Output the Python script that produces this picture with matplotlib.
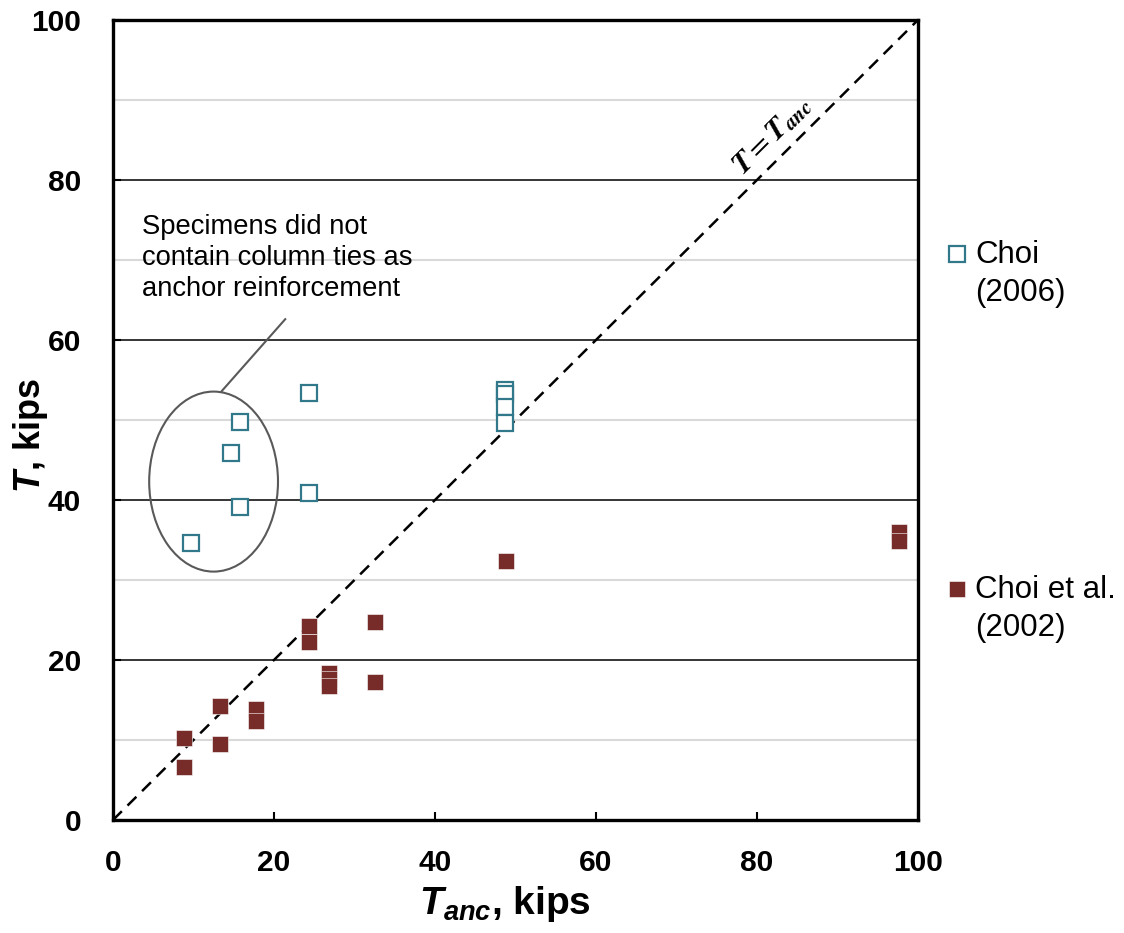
import matplotlib
matplotlib.use("Agg")
import matplotlib.pyplot as plt
from matplotlib.patches import Ellipse

# ----------------------------
# Data
# ----------------------------
choi2006_tanc = [9.7, 14.7, 15.8, 15.8, 24.3, 24.3, 48.7, 48.7, 48.7, 48.7]
choi2006_t = [34.6, 45.9, 49.8, 39.1, 53.4, 40.9, 53.7, 53.2, 51.6, 49.6]

choi2002_tanc = [8.8, 8.8, 13.3, 13.3, 17.8, 17.8, 24.3, 24.3,
                 26.8, 26.8, 26.8, 32.5, 32.5, 48.8, 97.7, 97.7]
choi2002_t = [10.2, 6.6, 14.2, 9.5, 13.9, 12.4, 24.2, 22.3,
              18.4, 17.6, 16.7, 24.8, 17.2, 32.4, 36.0, 34.9]

label_2006 = "Choi\n(2006)"
label_2002 = "Choi et al.\n(2002)"
note_text = "Specimens did not\ncontain column ties as\nanchor reinforcement"

teal = "#31788A"
maroon = "#772C2A"

plt.rcParams["font.family"] = ["Liberation Sans", "DejaVu Sans"]
plt.rcParams["mathtext.fontset"] = "custom"
plt.rcParams["mathtext.rm"] = "Liberation Sans:bold"
plt.rcParams["mathtext.bf"] = "Liberation Sans:bold"
plt.rcParams["mathtext.bfit"] = "Liberation Sans:italic:bold"
plt.rcParams["mathtext.it"] = "Liberation Sans:italic:bold"

fig = plt.figure(figsize=(11.24, 9.33), dpi=100)
ax = fig.add_axes([0.1005, 0.1211, 0.7162, 0.8575])

# ----------------------------
# Grid lines
# ----------------------------
for yv in [10, 30, 50, 70, 90]:
    ax.axhline(yv, color="#D9D9D9", lw=1.5, zorder=0)
for yv in [20, 40, 60, 80]:
    ax.axhline(yv, color="black", lw=1.1, zorder=0)

# 1:1 line
ax.plot([0, 100], [0, 100], color="black", lw=1.8, dashes=(5, 3.2), zorder=1)
ax.text(81.9, 85.6, r"$\mathbfit{T} = \mathbfit{T}_{\mathbfit{anc}}$",
        math_fontfamily="stix", fontsize=21.5, rotation=45,
        ha="center", va="center", rotation_mode="anchor")

# ----------------------------
# Data series
# ----------------------------
ax.plot(choi2006_tanc, choi2006_t, ls="none", marker="s", ms=11,
        mfc="white", mec=teal, mew=1.6, zorder=3)
ax.plot(choi2002_tanc, choi2002_t, ls="none", marker="s", ms=11.5,
        mfc=maroon, mec="white", mew=0.4, zorder=3)

# ----------------------------
# Annotation
# ----------------------------
ax.add_patch(Ellipse((12.5, 42.3), 16.0, 22.5, fill=False,
                     edgecolor="#595959", lw=1.5, zorder=2))
ax.plot([13.5, 21.4], [53.6, 62.6], color="#595959", lw=1.5, zorder=2)
ax.text(3.6, 70.2, note_text, ha="left", va="center", fontsize=19.7,
        linespacing=1.25)

# ----------------------------
# Axes styling
# ----------------------------
ax.set_xlim(0, 100)
ax.set_ylim(0, 100)
ax.set_xticks([0, 20, 40, 60, 80, 100])
ax.set_yticks([0, 20, 40, 60, 80, 100])
for lab in ax.get_xticklabels() + ax.get_yticklabels():
    lab.set_fontweight("bold")
ax.tick_params(axis="both", direction="in", length=6, width=1.5,
               labelsize=21.5)
ax.tick_params(axis="x", pad=21)
ax.tick_params(axis="y", pad=23)
for sp in ax.spines.values():
    sp.set_linewidth(2.4)

ax.set_xlabel(r"$\mathbfit{T}_{\mathbfit{anc}}$, kips", fontsize=28,
              fontweight="bold")
ax.xaxis.set_label_coords(0.487, -0.105)
ax.xaxis.label.set_va("center")
ax.set_ylabel(r"$\mathbfit{T}$, kips", fontsize=26, fontweight="bold")
ax.yaxis.set_label_coords(-0.103, 0.48)
ax.yaxis.label.set_va("center")

# ----------------------------
# Legend (two entries far apart on the right)
# ----------------------------
ax.plot([1.0484], [0.7075], transform=ax.transAxes, clip_on=False,
        ls="none", marker="s", ms=11, mfc="white", mec=teal, mew=1.6)
ax.text(1.0708, 0.6825, label_2006, transform=ax.transAxes, ha="left",
        va="center", fontsize=22.5, linespacing=1.35)
ax.plot([1.0484], [0.28875], transform=ax.transAxes, clip_on=False,
        ls="none", marker="s", ms=11.5, mfc=maroon, mec="white", mew=0.4)
ax.text(1.0708, 0.264, label_2002, transform=ax.transAxes, ha="left",
        va="center", fontsize=22.5, linespacing=1.35)

fig.savefig("out.png", dpi=100)
